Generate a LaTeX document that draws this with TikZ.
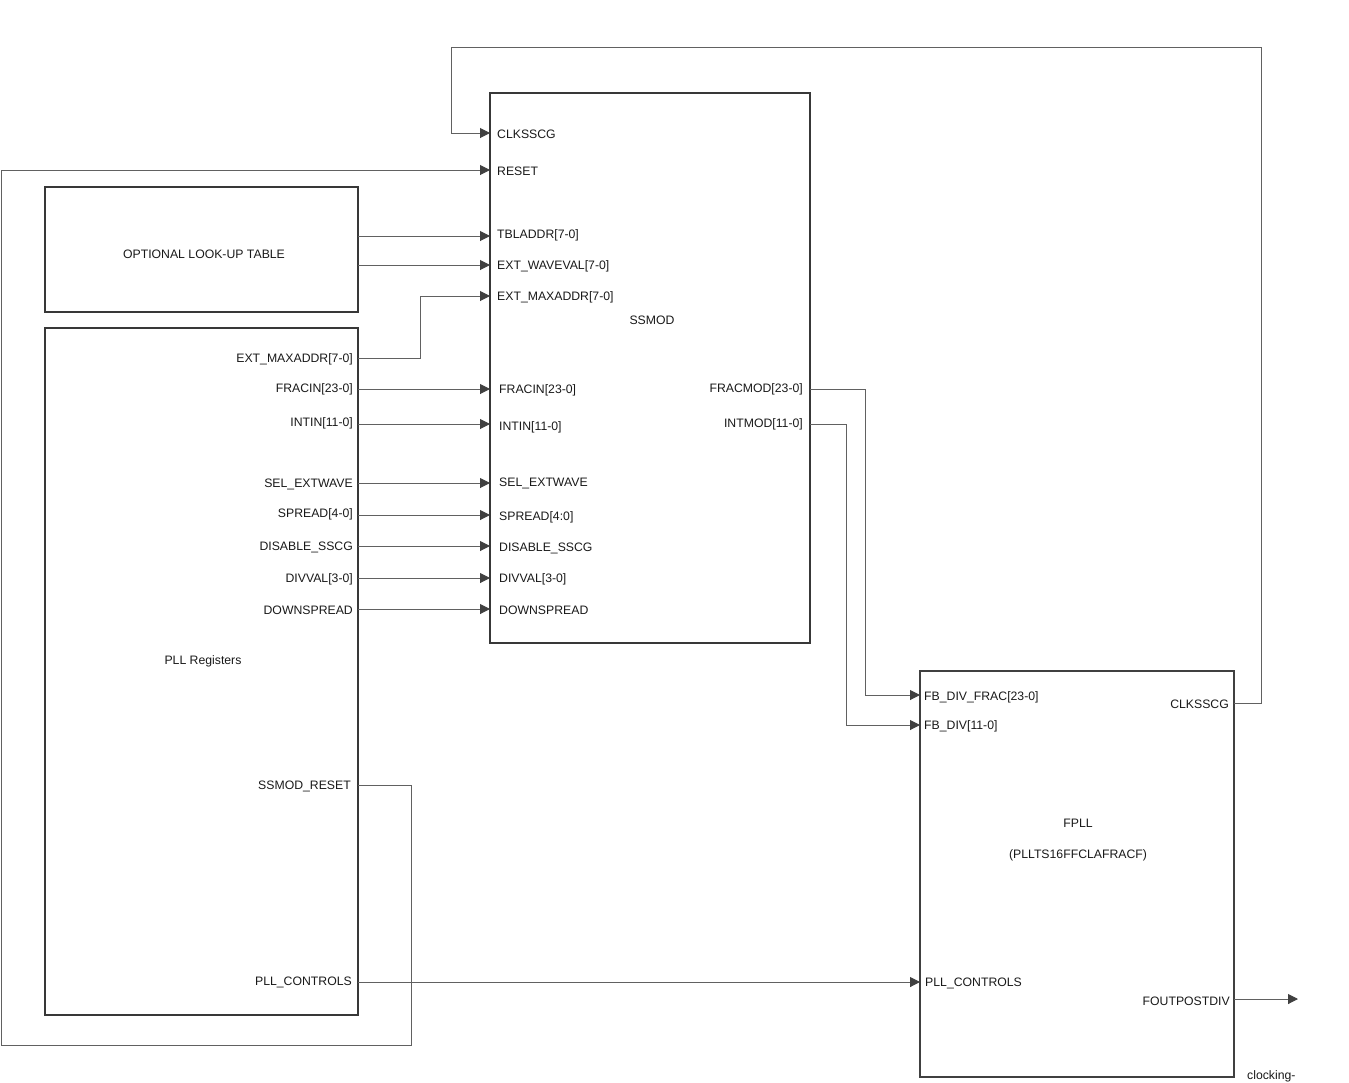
\documentclass[tikz,border=0pt]{standalone}
\usepackage{fontspec}
\setmainfont{Liberation Sans}
\usetikzlibrary{arrows.meta}
\begin{document}
\begin{tikzpicture}[x=1pt,y=-1pt,
  box/.style={draw=black!78,line width=2.6pt,inner sep=0pt},
  fbox/.style={draw=black!75,line width=1.8pt,inner sep=0pt},
  wire/.style={draw=black!62,line width=1pt},
  arr/.style={wire,-{Triangle[length=10pt,width=10pt,color=black!75]}},
  lbl/.style={inner sep=0pt,font=\fontsize{12.25}{14}\selectfont,text=black!90},
  lft/.style={lbl,anchor=west},
  rgt/.style={lbl,anchor=east}]
\useasboundingbox (0,0) rectangle (1349,1082);
% boxes
\node[box,minimum width=320pt,minimum height=550pt] (ssmod) at (650,368) {};
\node[lbl] (ssmodt) at (652,320) {SSMOD};
\node[box,minimum width=313pt,minimum height=125pt] (lut) at (201.5,249.5) {};
\node[lbl] (lutt) at (204,254) {OPTIONAL LOOK-UP TABLE};
\node[box,minimum width=313pt,minimum height=687pt] (pll) at (201.5,671.5) {};
\node[lbl] (pllt) at (203,661) {PLL Registers};
\node[fbox,minimum width=314pt,minimum height=406pt] (fpll) at (1077,874) {};
\node[lbl] (fpllt) at (1078,823) {FPLL};
\node[lbl] (fpllt2) at (1078,855) {(PLLTS16FFCLAFRACF)};
% coordinates
\coordinate (sClk) at (490,133);
\coordinate (sRst) at (490,170);
\coordinate (sTbl) at (490,236);
\coordinate (sWav) at (490,265);
\coordinate (sMax) at (490,296);
\coordinate (sFra) at (490,389);
\coordinate (sInt) at (490,424);
\coordinate (sSel) at (490,483);
\coordinate (sSpr) at (490,515);
\coordinate (sDis) at (490,546);
\coordinate (sDiv) at (490,578);
\coordinate (sDwn) at (490,609);
\coordinate (sFmo) at (810,389);
\coordinate (sImo) at (810,424);
\coordinate (lTbl) at (358,236);
\coordinate (lWav) at (358,265);
\coordinate (pMax) at (358,358);
\coordinate (pFra) at (358,389);
\coordinate (pInt) at (358,424);
\coordinate (pSel) at (358,483);
\coordinate (pSpr) at (358,515);
\coordinate (pDis) at (358,546);
\coordinate (pDiv) at (358,578);
\coordinate (pDwn) at (358,609);
\coordinate (pRst) at (358,785);
\coordinate (pCtl) at (358,982);
\coordinate (fFra) at (920,695);
\coordinate (fDiv) at (920,725);
\coordinate (fCtl) at (920,982);
\coordinate (fClk) at (1234,703);
\coordinate (fOut) at (1234,999);
\coordinate (outEnd) at (1298,999);
% SSMOD labels
\node[lft] (lClk) at (497,134) {CLKSSCG};
\node[lft] (lRst) at (497,171) {RESET};
\node[lft] (lTb) at (497,235) {TBLADDR[7-0]};
\node[lft] (lWv) at (497,266) {EXT\_WAVEVAL[7-0]};
\node[lft] (lMx) at (497,297) {EXT\_MAXADDR[7-0]};
\node[lft] (lFr) at (499,390) {FRACIN[23-0]};
\node[lft] (lIn) at (499,427) {INTIN[11-0]};
\node[lft] (lSe) at (499,483) {SEL\_EXTWAVE};
\node[lft] (lSp) at (499,517) {SPREAD[4:0]};
\node[lft] (lDi) at (499,548) {DISABLE\_SSCG};
\node[lft] (lDv) at (499,579) {DIVVAL[3-0]};
\node[lft] (lDw) at (499,610) {DOWNSPREAD};
\node[rgt] (lFm) at (803,389) {FRACMOD[23-0]};
\node[rgt] (lIm) at (803,424) {INTMOD[11-0]};
% PLL labels
\node[rgt] (rMx) at (353,359) {EXT\_MAXADDR[7-0]};
\node[rgt] (rFr) at (353,389) {FRACIN[23-0]};
\node[rgt] (rIn) at (353,423) {INTIN[11-0]};
\node[rgt] (rSe) at (353,484) {SEL\_EXTWAVE};
\node[rgt] (rSp) at (353,514) {SPREAD[4-0]};
\node[rgt] (rDi) at (353,547) {DISABLE\_SSCG};
\node[rgt] (rDv) at (353,579) {DIVVAL[3-0]};
\node[rgt] (rDw) at (353,610) {DOWNSPREAD};
\node[rgt] (rRs) at (351,786) {SSMOD\_RESET};
\node[rgt] (rCt) at (352,982) {PLL\_CONTROLS};
% FPLL labels
\node[lft] (fLf) at (924,697) {FB\_DIV\_FRAC[23-0]};
\node[lft] (fLd) at (924,726) {FB\_DIV[11-0]};
\node[lft] (fLc) at (925,983) {PLL\_CONTROLS};
\node[rgt] (fLk) at (1229,704) {CLKSSCG};
\node[rgt] (fLo) at (1230,1001) {FOUTPOSTDIV};
\node[lft] (clk) at (1247,1076) {clocking-};
% wires
\draw[arr] (fClk) -- (1261,703) -- (1261,47) -- (451,47) |- (sClk);
\draw[arr] (pRst) -- (411,785) -- (411,1045) -- (1,1045) |- (sRst);
\draw[arr] (lTbl) -- (sTbl);
\draw[arr] (lWav) -- (sWav);
\draw[arr] (pMax) -- (420,358) |- (sMax);
\draw[arr] (pFra) -- (sFra);
\draw[arr] (pInt) -- (sInt);
\draw[arr] (pSel) -- (sSel);
\draw[arr] (pSpr) -- (sSpr);
\draw[arr] (pDis) -- (sDis);
\draw[arr] (pDiv) -- (sDiv);
\draw[arr] (pDwn) -- (sDwn);
\draw[arr] (sFmo) -- (865,389) |- (fFra);
\draw[arr] (sImo) -- (846,424) |- (fDiv);
\draw[arr] (pCtl) -- (fCtl);
\draw[arr] (fOut) -- (outEnd);
\end{tikzpicture}
\end{document}
